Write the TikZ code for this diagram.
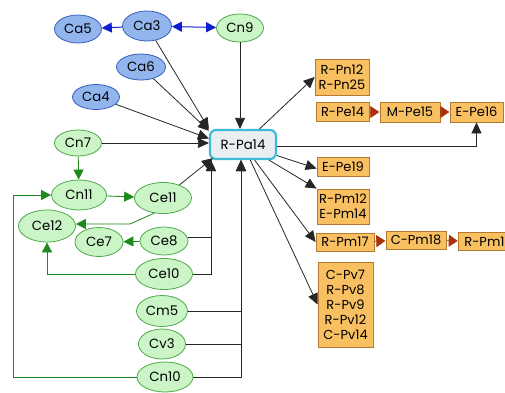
\documentclass[tikz,border=0pt]{standalone}
\usepackage{fontspec}
\setmainfont{Poppins}
\usetikzlibrary{shapes.geometric,arrows.meta}
\definecolor{bluefill}{HTML}{93B5EE}
\definecolor{blueline}{HTML}{3A5DBE}
\definecolor{bluearr}{HTML}{1020D0}
\definecolor{greenfill}{HTML}{CBF5C6}
\definecolor{greenline}{HTML}{4DAA4A}
\definecolor{greenarr}{HTML}{1E8A1E}
\definecolor{hubfill}{HTML}{E8EEF2}
\definecolor{hubline}{HTML}{3CBAD8}
\definecolor{boxfill}{HTML}{F9C062}
\definecolor{boxline}{HTML}{B47A30}
\definecolor{brownarr}{HTML}{A8340C}
\tikzset{
  ell/.style={ellipse, draw, line width=0.8pt, inner sep=0pt},
  bluenode/.style={ell, fill=bluefill, draw=blueline},
  greennode/.style={ell, fill=greenfill, draw=greenline},
  hub/.style={rectangle, rounded corners=6pt, draw=hubline, fill=hubfill, line width=2.2pt,
    minimum width=66pt, minimum height=29pt, inner sep=0pt},
  pbox/.style={rectangle, draw=boxline, fill=boxfill, line width=0.8pt, inner sep=0pt,
    align=center, font=\fontsize{13}{15}\selectfont},
  blk/.style={draw=black!85, line width=0.8pt, -{Triangle[length=11pt,width=10pt]}},
  blu/.style={draw=bluearr, line width=1pt, -{Triangle[length=10pt,width=10pt]}},
  blub/.style={draw=bluearr, line width=1pt, {Triangle[length=10pt,width=10pt]}-{Triangle[length=10pt,width=10pt]}},
  grn/.style={draw=greenarr, line width=0.8pt, -{Triangle[length=10pt,width=10pt]}},
  brn/.style={draw=brownarr, line width=0.8pt, -{Triangle[length=9pt,width=12pt,fill=brownarr]}, shorten >=0.3pt, shorten <=0.3pt},
}
\begin{document}
\begin{tikzpicture}[x=1pt,y=-1pt,font=\fontsize{13.3}{15}\selectfont]
\useasboundingbox (0,0) rectangle (505,392);
\clip (0,0) rectangle (505,392);
\fill[white] (0,0) rectangle (505,392);

% blue nodes
\node[bluenode, minimum width=47pt, minimum height=28pt] (Ca5) at (78,29) {Ca5};
\node[bluenode, minimum width=49pt, minimum height=30pt] (Ca3) at (147,26) {Ca3};
\node[bluenode, minimum width=49pt, minimum height=26pt] (Ca6) at (141,67) {Ca6};
\node[bluenode, minimum width=47pt, minimum height=25pt] (Ca4) at (96,97) {Ca4};

% green nodes
\node[greennode, minimum width=47pt, minimum height=28pt] (Cn9) at (240,28) {Cn9};
\node[greennode, minimum width=47pt, minimum height=26pt] (Cn7) at (78,143) {Cn7};
\node[greennode, minimum width=55pt, minimum height=30pt] (Cn11) at (79,195) {Cn11};
\node[greennode, minimum width=57pt, minimum height=31pt] (Ce11) at (163,198) {Ce11};
\node[greennode, minimum width=57pt, minimum height=32pt] (Ce12) at (47,226) {Ce12};
\node[greennode, minimum width=48pt, minimum height=29pt] (Ce7) at (99,242) {Ce7};
\node[greennode, minimum width=48pt, minimum height=28pt] (Ce8) at (164,241) {Ce8};
\node[greennode, minimum width=57pt, minimum height=31pt] (Ce10) at (164,274) {Ce10};
\node[greennode, minimum width=51pt, minimum height=31pt] (Cm5) at (162,311) {Cm5};
\node[greennode, minimum width=47pt, minimum height=30pt] (Cv3) at (162,344) {Cv3};
\node[greennode, minimum width=56pt, minimum height=30pt] (Cn10) at (165,377) {Cn10};

% central node
\node[hub] (RPa) at (243,144.5) {R-Pa14};

% product boxes
\node[pbox, minimum width=54pt, minimum height=36pt] (Pn) at (342,77) {R-Pn12\\R-Pn25};
\node[pbox, minimum width=53pt, minimum height=19pt] (RPe14) at (342.5,112) {R-Pe14};
\node[pbox, minimum width=60pt, minimum height=20pt] (MPe15) at (410,112) {M-Pe15};
\node[pbox, minimum width=53pt, minimum height=20pt] (EPe16) at (476.5,112) {E-Pe16};
\node[pbox, minimum width=52pt, minimum height=19pt] (EPe19) at (343,166.5) {E-Pe19};
\node[pbox, minimum width=52pt, minimum height=35pt] (Pm12) at (343,206.5) {R-Pm12\\E-Pm14};
\node[pbox, minimum width=58pt, minimum height=18pt] (RPm17) at (345,242) {R-Pm17};
\node[pbox, minimum width=60pt, minimum height=18pt] (CPm18) at (416,240) {C-Pm18};
\node[pbox, minimum width=60pt, minimum height=18pt, anchor=west, text width=54pt, align=left] (RPm1) at (458,241.5) {\hspace*{3pt}R-Pm1};
\node[pbox, minimum width=55pt, minimum height=85pt] (Pv) at (345.5,304.5) {C-Pv7\\R-Pv8\\R-Pv9\\R-Pv12\\C-Pv14};

% blue links
\draw[blu] (Ca3) -- (Ca5);
\draw[blub] (Ca3) -- (Cn9);

% links into the central node
\draw[blk] (Cn9) -- (Cn9 |- RPa.north);
\draw[blk] (Ca3) -- (RPa.north west);
\draw[blk] (Ca6) -- (RPa.158);
\draw[blk] (Ca4) -- (RPa.170);
\draw[blk] (Cn7) -- (Cn7 -| RPa.west);
\draw[blk] (Ce11) -- ([xshift=4pt,yshift=2pt]RPa.south west);
\draw[blk] (Ce8.8) -| ([xshift=2pt]RPa.south west);
\draw[blk] (Ce10.east) -| ([xshift=2pt]RPa.south west);
\draw[blk] (Cm5.east) -| ([xshift=-2pt]RPa.south);
\draw[blk] (Cv3.east) -| ([xshift=-2pt]RPa.south);
\draw[blk] (Cn10.east) -| ([xshift=-2pt]RPa.south);

% green links
\coordinate (bend) at (130,224);
\coordinate (leftrail) at (13,377);
\draw[grn] (Cn7) -- (Cn11);
\draw[grn] (Cn11) -- (Ce11);
\draw[grn] (Ce11.240) -- (bend) -- (Ce12.east |- bend);
\draw[grn] (Ce8) -- (Ce7);
\draw[grn] (Ce10.west) -| (Ce12.south);
\draw[grn] (Cn10.west) -- (leftrail) |- (Cn11.west);

% links out of the central node
\draw[blk] (RPa) -- (Pn.west);
\draw[blk] ([yshift=-2pt]RPa.east) -| (EPe16.south);
\draw[blk] (RPa) -- ([yshift=-2pt]EPe19.west);
\draw[blk] (RPa) -- (Pm12.north west);
\draw[blk] (RPa) -- (RPm17.west);
\draw[blk] (RPa) -- (Pv.west);

% chains between boxes
\draw[brn] (RPe14) -- (MPe15);
\draw[brn] (MPe15) -- (EPe16);
\draw[brn] (RPm17) -- (CPm18);
\draw[brn] (CPm18) -- (RPm1);
\end{tikzpicture}
\end{document}
